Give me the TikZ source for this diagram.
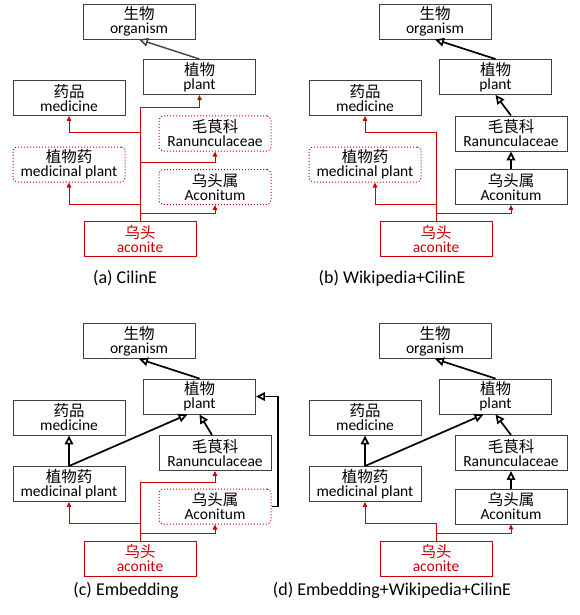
\documentclass[tikz,border=0pt]{standalone}
\usepackage{fontspec}
\setmainfont{Carlito}
\newfontfamily\cjk{Noto Sans CJK SC}
\usetikzlibrary{arrows.meta,calc}
\definecolor{myred}{RGB}{204,0,0}
\definecolor{boxgray}{RGB}{64,64,64}
\tikzset{
 base/.style={minimum width=112pt, minimum height=35pt, inner sep=0pt, align=center,
   font=\fontsize{15.5}{14}\selectfont, text=black},
 sbox/.style={base, draw=boxgray, line width=0.9pt},
 dbox/.style={base, draw=myred, dash pattern=on 1pt off 2pt, rounded corners=4pt, line width=1pt},
 rbox/.style={base, draw=myred, line width=1pt, text=myred},
 redarr/.style={draw=myred, line width=0.9pt, -{Triangle[length=5pt,width=4.5pt]}},
 isa/.style={draw=black, line width=1.7pt, -{Triangle[open,length=9pt,width=8.5pt]}},
 isagray/.style={draw=boxgray, line width=1.4pt, -{Triangle[open,length=9pt,width=8.5pt]}},
 captxt/.style={font=\fontsize{18}{20}\selectfont, inner sep=0pt, text=black},
}
\begin{document}
\begin{tikzpicture}[x=1pt,y=-1pt]
\useasboundingbox (0,0) rectangle (579,615);
% ---------- (a) ----------
\node[sbox] (a-org) at (139,21.5) {{\cjk 生物}\\organism};
\node[sbox] (a-plant) at (199.5,77) {{\cjk 植物}\\plant};
\node[sbox] (a-med) at (69,98) {{\cjk 药品}\\medicine};
\node[dbox] (a-ran) at (215,133.5) {{\cjk 毛茛科}\\Ranunculaceae};
\node[dbox] (a-mp) at (69,164.5) {{\cjk 植物药}\\medicinal plant};
\node[dbox] (a-acn) at (215,187) {{\cjk 乌头属}\\Aconitum};
\node[rbox] (a-aco) at (140,239) {{\cjk 乌头}\\aconite};
\draw[isagray] (a-plant.north) -- (a-org.south);
\draw[redarr] (a-aco.north) -- ++(0,-114) -| (a-plant.south);
\draw[redarr] (a-aco.north) -- ++(0,-89) -| (a-med.south);
\draw[redarr] (a-aco.north) -- ++(0,-59) -| (a-ran.south);
\draw[redarr] (a-aco.north) -- ++(0,-17) -| (a-mp.south);
\draw[redarr] (a-aco.north) -- ++(0,-8) -| (a-acn.south);
\node[captxt] (a-cap) at (125,278) {(a) CilinE};
% ---------- (b) ----------
\begin{scope}[shift={(296,0)}]
\node[sbox] (b-org) at (139,21.5) {{\cjk 生物}\\organism};
\node[sbox] (b-plant) at (199.5,77) {{\cjk 植物}\\plant};
\node[sbox] (b-med) at (69,98) {{\cjk 药品}\\medicine};
\node[sbox] (b-ran) at (215,133.5) {{\cjk 毛茛科}\\Ranunculaceae};
\node[dbox] (b-mp) at (69,164.5) {{\cjk 植物药}\\medicinal plant};
\node[sbox] (b-acn) at (215,187) {{\cjk 乌头属}\\Aconitum};
\node[rbox] (b-aco) at (140,239) {{\cjk 乌头}\\aconite};
\node[captxt] (b-cap) at (96,278) {(b) Wikipedia+CilinE};
\end{scope}
\draw[isa] (b-plant.north) -- (b-org.south);
\draw[isa] (b-ran.north) -- (b-plant.south);
\draw[isa] (b-acn.north) -- (b-ran.south);
\draw[redarr] (b-aco.north) -- ++(0,-89) -| (b-med.south);
\draw[redarr] (b-aco.north) -- ++(0,-17) -| ([xshift=10pt]b-mp.south);
\draw[redarr] (b-aco.north) -- ++(0,-8) -| (b-acn.south);
% ---------- (c) ----------
\begin{scope}[shift={(0,319.5)}]
\node[sbox] (c-org) at (139,21.5) {{\cjk 生物}\\organism};
\node[sbox] (c-plant) at (199.5,77) {{\cjk 植物}\\plant};
\node[sbox] (c-med) at (69,98) {{\cjk 药品}\\medicine};
\node[sbox] (c-ran) at (215,133.5) {{\cjk 毛茛科}\\Ranunculaceae};
\node[sbox] (c-mp) at (69,164.5) {{\cjk 植物药}\\medicinal plant};
\node[dbox] (c-acn) at (215,187) {{\cjk 乌头属}\\Aconitum};
\node[rbox] (c-aco) at (140,239) {{\cjk 乌头}\\aconite};
\node[captxt] (c-cap) at (126,270.5) {(c) Embedding};
\end{scope}
\draw[isa] (c-plant.north) -- (c-org.south);
\draw[isa] (c-mp.north) -- (c-med.south);
\draw[isa] (c-mp.north) -- ([xshift=-12pt]c-plant.south);
\draw[isa] ([xshift=-3pt]c-ran.north) -- (c-plant.south);
\draw[isa] (c-acn.east) -- ++(6.5,0) |- (c-plant.east);
\draw[redarr] (c-aco.north) -- ++(0,-58) -| (c-ran.south);
\draw[redarr] (c-aco.north) -- ++(0,-17) -| (c-mp.south);
\draw[redarr] (c-aco.north) -- ++(0,-7.5) -| (c-acn.south);
% ---------- (d) ----------
\begin{scope}[shift={(296,319.5)}]
\node[sbox] (d-org) at (139,21.5) {{\cjk 生物}\\organism};
\node[sbox] (d-plant) at (199.5,77) {{\cjk 植物}\\plant};
\node[sbox] (d-med) at (69,98) {{\cjk 药品}\\medicine};
\node[sbox] (d-ran) at (215,133.5) {{\cjk 毛茛科}\\Ranunculaceae};
\node[sbox] (d-mp) at (69,164.5) {{\cjk 植物药}\\medicinal plant};
\node[sbox] (d-acn) at (215,187) {{\cjk 乌头属}\\Aconitum};
\node[rbox] (d-aco) at (140,239) {{\cjk 乌头}\\aconite};
\node[captxt] (d-cap) at (96,270.5) {(d) Embedding+Wikipedia+CilinE};
\end{scope}
\draw[isa] (d-plant.north) -- (d-org.south);
\draw[isa] (d-mp.north) -- (d-med.south);
\draw[isa] (d-mp.north) -- ([xshift=-12pt]d-plant.south);
\draw[isa] (d-ran.north) -- (d-plant.south);
\draw[isa] (d-acn.north) -- (d-ran.south);
\draw[redarr] (d-aco.north) -- ++(0,-17) -| (d-mp.south);
\draw[redarr] (d-aco.north) -- ++(0,-7.5) -| (d-acn.south);
\end{tikzpicture}
\end{document}
